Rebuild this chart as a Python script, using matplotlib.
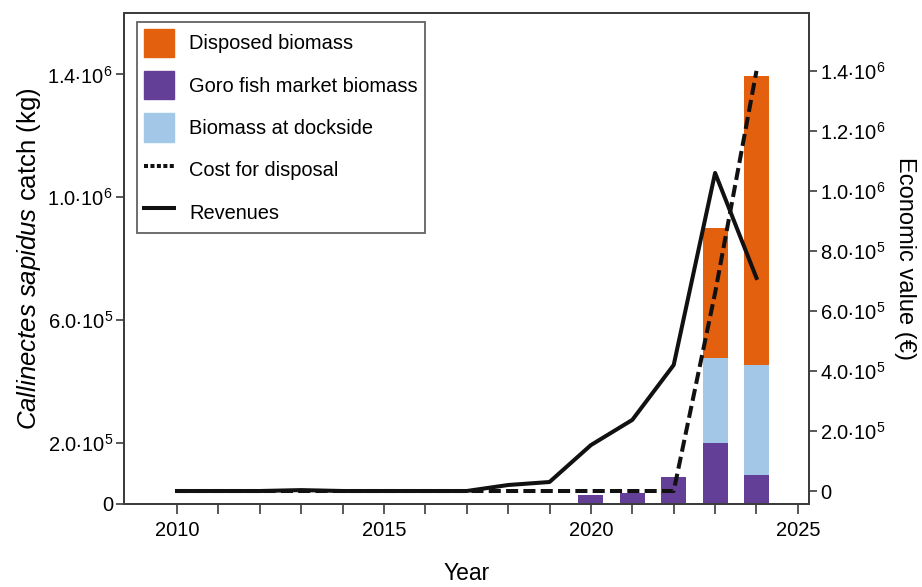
import numpy as np
import matplotlib
matplotlib.use("Agg")
import matplotlib.pyplot as plt
from matplotlib.patches import Patch
from matplotlib.lines import Line2D

plt.rcParams["font.family"] = ["Liberation Sans", "DejaVu Sans"]
plt.rcParams["mathtext.fontset"] = "custom"
plt.rcParams["mathtext.rm"] = "Liberation Sans"
plt.rcParams["mathtext.it"] = "Liberation Sans:italic"

years = np.arange(2010, 2025)

# catch (kg), stacked: fish market at the bottom, dockside, then disposed
market = [0, 0, 0, 0, 0, 0, 0, 0, 0, 0, 29000, 36000, 88000, 199000, 94000]
dockside = [0, 0, 0, 0, 0, 0, 0, 0, 0, 3000, 0, 0, 0, 277000, 359000]
disposed = [0, 0, 0, 0, 0, 0, 0, 0, 0, 0, 0, 0, 0, 423000, 941000]

# economic value (EUR)
revenues = [0, 0, 0, 3000, 0, 0, 0, 0, 20000, 30000, 153000, 237000, 420000, 1060000, 710000]
disposal_cost = [0, 0, 0, 0, 0, 0, 0, 0, 0, 0, 0, 0, 0, 660000, 1400000]

dot = "\u2219"
left_ticks = [0, 2e5, 6e5, 1e6, 1.4e6]
left_labels = ["0", f"2.0{dot}10$^{{5}}$", f"6.0{dot}10$^{{5}}$", f"1.0{dot}10$^{{6}}$", f"1.4{dot}10$^{{6}}$"]
right_ticks = [0, 2e5, 4e5, 6e5, 8e5, 1e6, 1.2e6, 1.4e6]
right_labels = ["0", f"2.0{dot}10$^{{5}}$", f"4.0{dot}10$^{{5}}$", f"6.0{dot}10$^{{5}}$", f"8.0{dot}10$^{{5}}$",
                f"1.0{dot}10$^{{6}}$", f"1.2{dot}10$^{{6}}$", f"1.4{dot}10$^{{6}}$"]

c_disp = "#e3600f"
c_market = "#643f97"
c_dock = "#a3c8e7"
c_axis = "#3c3c3c"

fig = plt.figure(figsize=(9.22, 5.87), dpi=100)
ax = fig.add_axes([0.1345, 0.1414, 0.743, 0.8365])
ax2 = ax.twinx()

market = np.array(market)
dockside = np.array(dockside)
disposed = np.array(disposed)
w = 0.6
ax.bar(years, market, w, color=c_market, zorder=2)
ax.bar(years, dockside, w, bottom=market, color=c_dock, zorder=2)
ax.bar(years, disposed, w, bottom=market + dockside, color=c_disp, zorder=2)

ax2.plot(years, disposal_cost, color="#111111", lw=2.9, ls=(0, (3, 1.3)), zorder=3)
ax2.plot(years, revenues, color="#111111", lw=2.9, zorder=4)

ax.set_xlim(2008.72, 2025.27)
ax.set_ylim(0, 1.6e6)
ax2.set_ylim(-43300, 1.593e6)

ax.set_xticks([2010, 2015, 2020, 2025])
ax.set_xticks(np.arange(2010, 2026), minor=True)
ax.set_yticks(left_ticks)
ax.set_yticklabels(left_labels)
ax2.set_yticks(right_ticks)
ax2.set_yticklabels(right_labels)

ax.tick_params(axis="x", which="both", direction="out", length=7, width=1.2, color=c_axis,
               labelsize=14.5, pad=5)
ax.tick_params(axis="y", direction="out", length=6, width=1.2, color=c_axis, labelsize=14.5, pad=2)
ax2.tick_params(axis="y", direction="out", length=6, width=1.2, color=c_axis, labelsize=14.5, pad=2)

for a in (ax, ax2):
    for s in a.spines.values():
        s.set_color(c_axis)
        s.set_linewidth(1.3)

ax.set_xlabel("Year", fontsize=16.5, labelpad=16)
ax.set_ylabel(r"$\it{Callinectes\ sapidus}$ catch (kg)", fontsize=18.5, labelpad=3)
ax2.set_ylabel("Economic value (\u20ac)", fontsize=17, rotation=270, labelpad=22)

handles = [
    Patch(color=c_disp, label="Disposed biomass"),
    Patch(color=c_market, label="Goro fish market biomass"),
    Patch(color=c_dock, label="Biomass at dockside"),
    Line2D([], [], color="#111111", lw=2.9, ls=(0, (1, 0.6)), label="Cost for disposal"),
    Line2D([], [], color="#111111", lw=2.9, label="Revenues"),
]
leg = ax2.legend(handles=handles, loc="upper left", bbox_to_anchor=(0.019, 0.982), borderaxespad=0,
                 fontsize=14.4, frameon=True, fancybox=False, handlelength=1.5, handleheight=1.8,
                 handletextpad=0.75, labelspacing=0.7, borderpad=0.35)
leg.get_frame().set_edgecolor(c_axis)
leg.get_frame().set_linewidth(1.3)

fig.savefig("out.png", dpi=100)
